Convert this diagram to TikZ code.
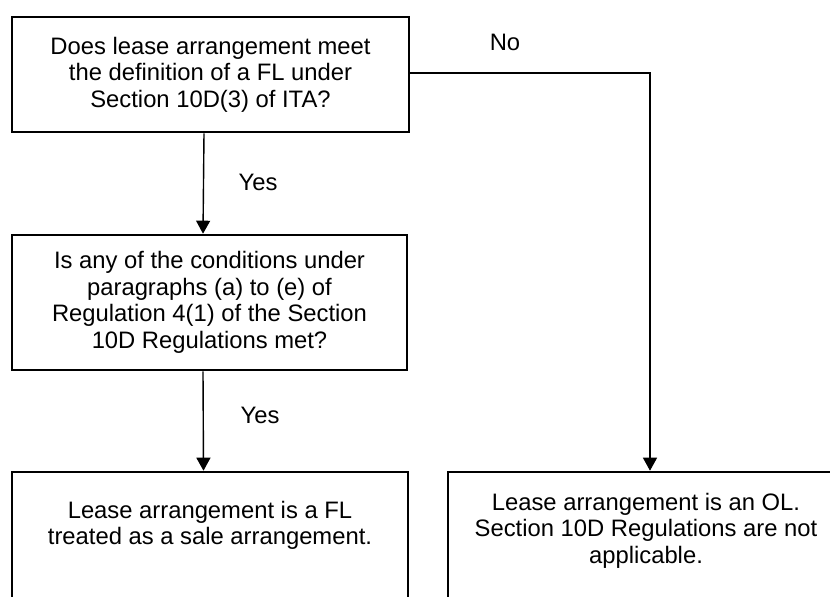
\documentclass[tikz,border=0pt]{standalone}
\usepackage{fontspec}
\setmainfont{Liberation Sans}
\usetikzlibrary{arrows.meta,positioning}

\begin{document}
\begin{tikzpicture}[
  x=1pt,y=-1pt,
  >={Triangle[width=14pt,length=13pt]},
  every node/.style={font=\fontsize{23.8}{26.6}\selectfont,align=center},
  box/.style={draw,line width=2.6pt,inner sep=0pt,minimum width=396pt},
  arr/.style={->,line width=1.4pt},
  note/.style={inner sep=0pt}
]
  \clip (0,0) rectangle (830,597);

  % questions
  \node[box,minimum width=397pt,minimum height=115pt] (lease) at (210.5,74.5)
    {Does lease arrangement meet\\the definition of a FL under\\Section 10D(3) of ITA?};
  \node[box,minimum width=395pt,minimum height=135pt] (cond) at (209.5,302.5)
    {Is any of the conditions under\\paragraphs (a) to (e) of\\Regulation 4(1) of the Section\\10D Regulations met?};

  % outcomes
  \node[box,minimum height=140pt] (fl) at (210,542) {};
  \node[note] (fltext) at (210,525.5) {Lease arrangement is a FL\\treated as a sale arrangement.};
  \node[box,minimum height=140pt] (ol) at (646,542) {};
  \node[note] (oltext) at (646,530.5) {Lease arrangement is an OL.\\Section 10D Regulations are not\\applicable.};

  % connectors
  \draw[arr] ([xshift=-6.5pt]lease.south) -- ([xshift=-6.5pt]cond.north);
  \draw[arr] ([xshift=-6.5pt]cond.south) -- ([xshift=-6.5pt]fl.north);
  \draw[arr] (lease.east |- 0,73) -| ([xshift=4pt]ol.north);

  \node[note] (yes1) at (258,182) {Yes};
  \node[note] (yes2) at (260,415) {Yes};
  \node[note] (no) at (505,42) {No};
\end{tikzpicture}
\end{document}
